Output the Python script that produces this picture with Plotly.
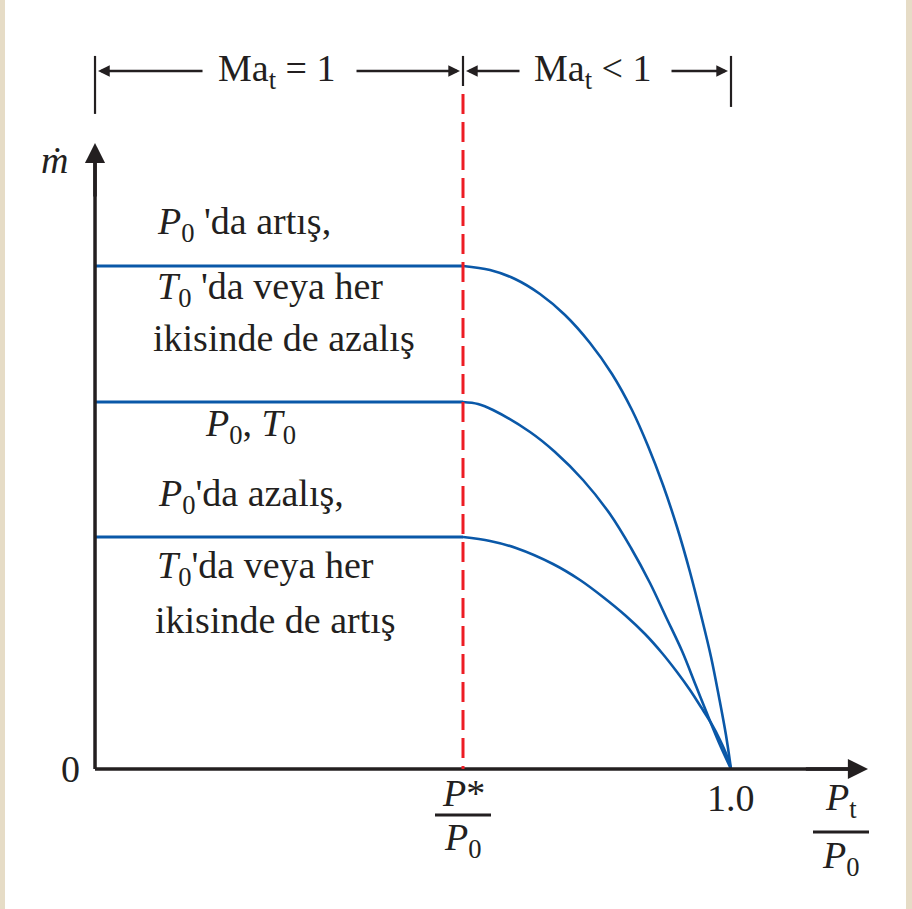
import plotly.graph_objects as go

# ---- data -----------------------------------------------------------------
# back-pressure ratio at which the throat chokes (P*/P0) and the no-flow ratio
critical_ratio = 0.5786
no_flow_ratio = 1.0

# choked (plateau) mass-flow levels, normalised to the base P0, T0 case
levels = [1.3706, 1.0, 0.6322]

# unchoked branch of each curve, from P*/P0 down to zero flow at Pt/P0 = 1
top_x = [0.5786, 0.6211, 0.6604, 0.6997, 0.7390, 0.7783, 0.8129, 0.8443, 0.8695,
         0.8931, 0.9151, 0.9355, 0.9528, 0.9686, 0.9811, 0.9921, 1.0]
top_y = [1.3706, 1.3597, 1.3351, 1.2943, 1.2371, 1.1608, 1.0763, 0.9782, 0.8801,
         0.7738, 0.6594, 0.5368, 0.4196, 0.3052, 0.1962, 0.0926, 0.0]
mid_x = [0.5786, 0.6022, 0.6258, 0.6840, 0.7233, 0.7673, 0.8097, 0.8428, 0.8726,
         0.8978, 0.9230, 0.9450, 0.9670, 0.9827, 1.0]
mid_y = [1.0, 0.9946, 0.9782, 0.9183, 0.8638, 0.7875, 0.6948, 0.6022, 0.5068,
         0.4142, 0.3215, 0.2262, 0.1308, 0.0654, 0.0]
low_x = [0.5786, 0.6211, 0.6619, 0.7201, 0.7626, 0.7987, 0.8349, 0.8648, 0.8915,
         0.9151, 0.9355, 0.9528, 0.9686, 0.9827, 0.9937, 1.0]
low_y = [0.6322, 0.6213, 0.6022, 0.5586, 0.5150, 0.4687, 0.4169, 0.3678, 0.3161,
         0.2643, 0.2153, 0.1689, 0.1253, 0.0790, 0.0354, 0.0]

# ---- styling --------------------------------------------------------------
INK = "#231f20"
BLUE = "#0a58a8"
RED = "#ed1c24"
BEIGE = "#e6dcc6"
FONT = "Liberation Serif, Times New Roman, serif"
FS = 38

X_RANGE = [-0.1494, 1.2846]
Y_RANGE = [-0.3815, 2.0954]
PX_X = 636.0   # pixels per unit of pressure ratio
PX_Y = 367.0   # pixels per unit of mass flow

x_axis_end = 1.2154
y_axis_end = 1.706
dash_top = 1.839
bracket_y = 1.902

fig = go.Figure()

# choked plateaus and the unchoked branches
for lvl, cx, cy in zip(levels, [top_x, mid_x, low_x], [top_y, mid_y, low_y]):
    fig.add_trace(go.Scatter(x=[0, critical_ratio], y=[lvl, lvl], mode="lines",
                             line=dict(color=BLUE, width=3), hoverinfo="skip"))
    fig.add_trace(go.Scatter(x=cx, y=cy, mode="lines",
                             line=dict(color=BLUE, width=2.6, shape="spline", smoothing=1.0),
                             hoverinfo="skip"))

shapes = []
# page border strips
shapes.append(dict(type="rect", xref="paper", yref="paper", x0=0, x1=5 / 912, y0=0, y1=1,
                   fillcolor=BEIGE, line=dict(width=0), layer="below"))
shapes.append(dict(type="rect", xref="paper", yref="paper", x0=906 / 912, x1=1, y0=0, y1=1,
                   fillcolor=BEIGE, line=dict(width=0), layer="below"))
# axes
shapes.append(dict(type="line", x0=0, x1=0, y0=0, y1=y_axis_end - 0.03,
                   line=dict(color=INK, width=3.5)))
shapes.append(dict(type="line", x0=0, x1=x_axis_end - 0.02, y0=0, y1=0,
                   line=dict(color=INK, width=3.5)))
# critical pressure ratio marker
shapes.append(dict(type="line", x0=critical_ratio, x1=critical_ratio, y0=dash_top, y1=0,
                   line=dict(color=RED, width=3, dash="20px,8px")))
# bracket ticks above the plot
for bx, top, bot in [(0, 1.943, 1.785), (critical_ratio, 1.943, 1.861), (no_flow_ratio, 1.943, 1.804)]:
    shapes.append(dict(type="line", x0=bx, x1=bx, y0=top, y1=bot, line=dict(color=INK, width=2.2)))
# fraction bars under the x-axis labels
for cx, fy, hw in [(critical_ratio, -0.1253, 28 / PX_X), (1.0 + 110 / PX_X, -0.1717, 28 / PX_X)]:
    shapes.append(dict(type="line", x0=cx - hw, x1=cx + hw, y0=fy, y1=fy, line=dict(color=INK, width=3)))

ann = []


def arrow(x, y, ax, ay, width, size, standoff=0):
    ann.append(dict(x=x, y=y, ax=ax, ay=ay, xref="x", yref="y", axref="x", ayref="y",
                    text="", showarrow=True, arrowhead=2, arrowwidth=width, arrowsize=size,
                    arrowcolor=INK, standoff=standoff))


# axis heads
arrow(0, y_axis_end, 0, y_axis_end - 0.15, 3.5, 1.15)
arrow(x_axis_end, 0, x_axis_end - 0.1, 0, 3.5, 1.15)
# dimension arrows for the two flow regimes
arrow(0, bracket_y, 0.1714, bracket_y, 2.6, 0.9, 3)
arrow(critical_ratio, bracket_y, 0.4088, bracket_y, 2.6, 0.9, 3)
arrow(critical_ratio, bracket_y, 0.6698, bracket_y, 2.6, 0.9, 3)
arrow(no_flow_ratio, bracket_y, 0.9041, bracket_y, 2.6, 0.9, 3)


def label(text, x, y, xanchor="left", size=FS):
    ann.append(dict(x=x, y=y, xref="x", yref="y", text=text, showarrow=False,
                    xanchor=xanchor, yanchor="middle",
                    font=dict(family=FONT, size=size, color=INK)))


def px_x(p):
    return (p - 95) / PX_X


def px_y(p):
    return (769 - p) / PX_Y


P0 = "<i>P</i><sub>0</sub>"
T0 = "<i>T</i><sub>0</sub>"

label("Ma<sub>t</sub> = 1", px_x(276), px_y(71), "center")
label("Ma<sub>t</sub> < 1", px_x(592), px_y(71), "center")
label("<i>ṁ</i>", px_x(54), px_y(160), "center")

label(P0 + " 'da artış,", px_x(155), px_y(224))
label(T0 + " 'da veya her", px_x(155), px_y(289))
label("ikisinde de azalış", px_x(151), px_y(338))
label(P0 + ", " + T0, px_x(203), px_y(426))
label(P0 + "'da azalış,", px_x(156), px_y(496))
label(T0 + "'da veya her", px_x(155), px_y(568))
label("ikisinde de artış", px_x(153), px_y(620))

label("0", px_x(70), px_y(769), "center")
label("<i>P</i>*", critical_ratio, px_y(793), "center")
label(P0, critical_ratio, px_y(840), "center")
label("1.0", no_flow_ratio, px_y(798), "center")
label("<i>P</i><sub>t</sub>", 1.0 + 110 / PX_X, px_y(800), "center")
label(P0, 1.0 + 110 / PX_X, px_y(858), "center")

fig.update_layout(
    width=912, height=909,
    margin=dict(l=0, r=0, t=0, b=0),
    paper_bgcolor="white", plot_bgcolor="white",
    showlegend=False,
    xaxis=dict(range=X_RANGE, visible=False, fixedrange=True),
    yaxis=dict(range=Y_RANGE, visible=False, fixedrange=True),
    shapes=shapes, annotations=ann,
)

fig.write_html("out.html")
